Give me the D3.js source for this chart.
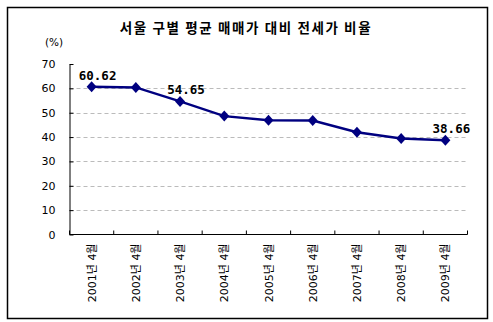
<!DOCTYPE html>
<html><head><meta charset="utf-8">
<script src="https://cdn.jsdelivr.net/npm/d3@7"></script>
<style>
html,body{margin:0;padding:0;background:#fff;}
svg{display:block;}
</style></head>
<body>
<script>
// 서울 구별 평균 매매가 대비 전세가 비율 (%)
const categories = ["2001년 4월","2002년 4월","2003년 4월","2004년 4월","2005년 4월","2006년 4월","2007년 4월","2008년 4월","2009년 4월"];
const ratios = [60.62, 60.4, 54.65, 48.6, 46.9, 46.8, 42.0, 39.4, 38.66];
const labelled = [0, 2, 8];
const yTicks = [0,10,20,30,40,50,60,70];

const W = 493, H = 322;
const svg = d3.select("body").append("svg").attr("width", W).attr("height", H);

svg.append("rect").attr("x", 7.5).attr("y", 7.5).attr("width", 480).attr("height", 311)
  .attr("fill", "#fff").attr("stroke", "#000").attr("stroke-width", 1.5);

const plotL = 69.5, plotR = 467.5, plotT = 64, plotB = 234.5;
const x = d3.scaleBand().domain(categories).range([plotL, plotR]);
const y = d3.scaleLinear().domain([0, 70]).range([plotB, plotT]);

// title
svg.append("text").attr("x", 246).attr("y", 33).attr("text-anchor", "middle")
  .attr("font-family", "'Noto Sans CJK KR', sans-serif").attr("font-weight", "bold")
  .attr("font-size", 13.5).attr("letter-spacing", 1.6).text("서울 구별 평균 매매가 대비 전세가 비율");

svg.append("text").attr("x", 54).attr("y", 46).attr("text-anchor", "middle")
  .attr("font-family", "'DejaVu Sans', sans-serif").attr("font-size", 10.5).text("(%)");

// horizontal gridlines
svg.append("g").selectAll("line").data(yTicks.filter(d => d > 0 && d < 70)).join("line")
  .attr("x1", plotL).attr("x2", plotR)
  .attr("y1", d => Math.round(y(d)) + 0.5).attr("y2", d => Math.round(y(d)) + 0.5)
  .attr("stroke", "#bbb").attr("stroke-dasharray", "4,3");

// y axis
const yAxis = svg.append("g").attr("transform", `translate(${plotL},0)`)
  .call(d3.axisLeft(y).tickValues(yTicks).tickSizeInner(-4).tickSizeOuter(0).tickPadding(14));
yAxis.select(".domain").attr("stroke", "#000");
yAxis.selectAll("text").attr("font-family", "'DejaVu Sans', sans-serif").attr("font-size", 11).attr("fill", "#000");

// x axis with ticks at band boundaries
const xAxisG = svg.append("g").attr("transform", `translate(0,${plotB})`);
xAxisG.append("line").attr("x1", plotL).attr("x2", plotR).attr("stroke", "#000");
xAxisG.selectAll("line.tk").data(d3.range(categories.length + 1)).join("line").attr("class", "tk")
  .attr("x1", i => plotL + i * x.step()).attr("x2", i => plotL + i * x.step())
  .attr("y1", 0).attr("y2", -4).attr("stroke", "#000");
xAxisG.selectAll("text").data(categories).join("text")
  .attr("transform", d => `translate(${x(d) + x.bandwidth() / 2 + 4},9) rotate(-90)`)
  .attr("text-anchor", "end")
  .attr("font-family", "'DejaVu Sans', 'Noto Sans CJK KR', sans-serif").attr("font-size", 11)
  .text(d => d);

// series line
const line = d3.line().x((d, i) => x(categories[i]) + x.bandwidth() / 2).y(d => y(d));
svg.append("path").datum(ratios).attr("d", line)
  .attr("fill", "none").attr("stroke", "#000080").attr("stroke-width", 2.5);

// diamond markers
svg.append("g").selectAll("path").data(ratios).join("path")
  .attr("transform", (d, i) => `translate(${x(categories[i]) + x.bandwidth() / 2},${y(d)})`)
  .attr("d", "M0,-5.5L5,0L0,5.5L-5,0Z").attr("fill", "#000080");

// value labels
svg.append("g").selectAll("text").data(labelled).join("text")
  .attr("x", i => x(categories[i]) + x.bandwidth() / 2 + 6)
  .attr("y", i => y(ratios[i]) - 7)
  .attr("text-anchor", "middle")
  .attr("font-family", "'DejaVu Sans Mono', monospace").attr("font-weight", "bold").attr("font-size", 12.5)
  .text(i => ratios[i].toFixed(2));
</script>
</body></html>
